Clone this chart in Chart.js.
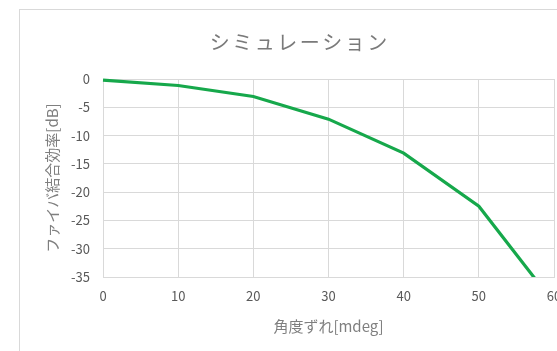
<!DOCTYPE html>
<html lang="ja">
<head>
<meta charset="utf-8">
<script src="https://cdn.jsdelivr.net/npm/chart.js@4/dist/chart.umd.min.js"></script>
<style>
  html, body { margin: 0; padding: 0; background: #ffffff; overflow: hidden; width: 557px; height: 351px; }
  #frame { position: absolute; left: 19px; top: 9px; width: 554px; height: 358px; border: 1px solid #d9d9d9; background: #fff; }
  canvas { display: block; }
</style>
</head>
<body>
<div id="frame"><canvas id="c" width="554" height="358"></canvas></div>
<script>
// Angular misalignment vs. simulated fiber coupling efficiency
const chartTitle = 'シミュレーション';
const xAxisTitle = '角度ずれ[mdeg]';
const yAxisTitle = 'ファイバ結合効率[dB]';
const angleMdeg = [0, 10, 20, 30, 40, 50, 60];
const couplingDb = [-0.2, -1.15, -3.1, -7.1, -13.1, -22.5, -39.6];
const xTicks = [0, 10, 20, 30, 40, 50, 60];
const yTicks = [0, -5, -10, -15, -20, -25, -30, -35];

const FONT = '"Noto Sans CJK JP", "Noto Sans", sans-serif';
const GRID = '#d9d9d9';

// Title drawn with letter spacing, centred over the chart
const spacedTitle = {
  id: 'spacedTitle',
  afterDraw(chart, args, opts) {
    const ctx = chart.ctx;
    ctx.save();
    ctx.font = `${opts.size}px ${FONT}`;
    ctx.fillStyle = opts.color;
    ctx.textAlign = 'center';
    ctx.textBaseline = 'middle';
    if ('letterSpacing' in ctx) ctx.letterSpacing = opts.spacing + 'px';
    ctx.fillText(opts.text, opts.x + opts.spacing / 2, opts.y);
    ctx.restore();
  }
};

new Chart(document.getElementById('c'), {
  type: 'line',
  data: {
    datasets: [{
      data: angleMdeg.map((x, i) => ({ x, y: couplingDb[i] })),
      borderColor: '#16a84b',
      borderWidth: 3.2,
      pointRadius: 0,
      tension: 0,
      fill: false,
      clip: { left: 3, right: 3, top: 3, bottom: 0 }
    }]
  },
  options: {
    responsive: false,
    animation: false,
    layout: { padding: { left: 0, right: 20, top: 69, bottom: 31 } },
    plugins: {
      legend: { display: false },
      tooltip: { enabled: false },
      spacedTitle: { text: chartTitle, x: 278.5, y: 32, size: 20, spacing: 2.5, color: '#7a7a7a' }
    },
    scales: {
      x: {
        type: 'linear',
        min: 0, max: 60,
        afterBuildTicks(s) { s.ticks = xTicks.map(v => ({ value: v })); },
        afterFit(s) { s.height = 60; },
        grid: { color: GRID, lineWidth: 1, drawTicks: false },
        border: { color: GRID },
        ticks: { padding: 11, color: '#595959', font: { family: FONT, size: 13 }, maxRotation: 0 },
        title: { display: true, text: xAxisTitle, color: '#7f7f7f', font: { family: FONT, size: 15 }, padding: { top: 0, bottom: 2 } }
      },
      y: {
        type: 'linear',
        min: -35, max: 0,
        afterBuildTicks(s) { s.ticks = yTicks.map(v => ({ value: v })); },
        afterFit(s) { s.width = 83; },
        grid: { color: GRID, lineWidth: 1, drawTicks: false },
        border: { color: GRID },
        ticks: { padding: 13, color: '#595959', font: { family: FONT, size: 13 } },
        title: { display: true, text: yAxisTitle, color: '#7f7f7f', font: { family: FONT, size: 15 }, padding: { top: 23, bottom: 0 } }
      }
    }
  },
  plugins: [spacedTitle]
});
</script>
</body>
</html>
